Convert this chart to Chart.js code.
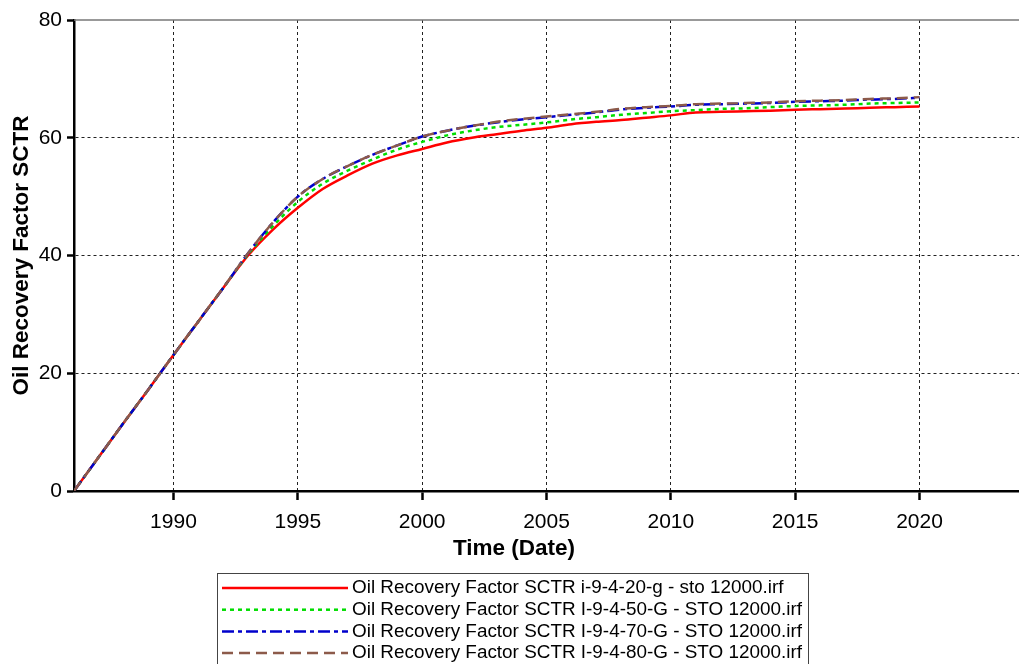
<!DOCTYPE html>
<html>
<head>
<meta charset="utf-8">
<script src="https://cdn.jsdelivr.net/npm/chart.js@4"></script>
<style>
  html, body { margin: 0; padding: 0; background: #fff; }
  canvas { display: block; }
</style>
</head>
<body>
<canvas id="c" width="1019" height="664"></canvas>
<script>
// Simulation time axis (decimal years)
const years = [1986, 1987, 1988, 1989, 1990, 1991, 1992, 1993, 1994, 1995, 1996, 1997,
  1998, 1999, 2000, 2001, 2002, 2003, 2004, 2005, 2006, 2007, 2008, 2009, 2010,
  2011, 2012, 2013, 2014, 2015, 2016, 2017, 2018, 2019, 2020];

// Oil recovery factor (%) per case
const rf20 = [0, 5.8, 11.6, 17.3, 23.1, 28.8, 34.5, 40.0, 44.4, 48.1, 51.3, 53.6,
  55.6, 57.0, 58.1, 59.2, 60.0, 60.6, 61.2, 61.7, 62.3, 62.7, 63.0, 63.4, 63.8,
  64.3, 64.4, 64.5, 64.6, 64.75, 64.85, 64.95, 65.1, 65.2, 65.3];
const rf50 = [0, 5.8, 11.6, 17.3, 23.1, 28.8, 34.5, 40.2, 45.0, 49.1, 52.2, 54.4,
  56.3, 58.0, 59.3, 60.4, 61.2, 61.8, 62.2, 62.6, 63.1, 63.5, 63.9, 64.2, 64.5,
  64.7, 64.9, 65.0, 65.2, 65.4, 65.5, 65.6, 65.8, 65.9, 66.0];
const rf70 = [0, 5.8, 11.6, 17.3, 23.1, 28.8, 34.5, 40.4, 45.6, 50.0, 53.0, 55.2,
  57.1, 58.7, 60.2, 61.2, 62.0, 62.6, 63.1, 63.5, 63.9, 64.3, 64.8, 65.1, 65.3,
  65.6, 65.7, 65.8, 65.9, 66.1, 66.2, 66.3, 66.5, 66.6, 66.8];
const rf80 = [0, 5.8, 11.6, 17.3, 23.1, 28.8, 34.5, 40.4, 45.6, 50.0, 53.0, 55.2,
  57.1, 58.7, 60.2, 61.2, 62.0, 62.7, 63.2, 63.6, 64.0, 64.4, 64.9, 65.2, 65.4,
  65.7, 65.8, 65.9, 66.0, 66.2, 66.3, 66.4, 66.6, 66.7, 66.9];

const seriesLabels = [
  'Oil Recovery Factor SCTR i-9-4-20-g - sto 12000.irf',
  'Oil Recovery Factor SCTR I-9-4-50-G - STO 12000.irf',
  'Oil Recovery Factor SCTR I-9-4-70-G - STO 12000.irf',
  'Oil Recovery Factor SCTR I-9-4-80-G - STO 12000.irf'
];
const xTicks = [1990, 1995, 2000, 2005, 2010, 2015, 2020];
const yTicks = [0, 20, 40, 60, 80];
const xTitle = 'Time (Date)';

const toPoints = vals => vals.map((v, i) => ({ x: years[i], y: v }));
const FONT = '"Liberation Sans", Arial, sans-serif';

// Boxed legend with long line samples, stacked below the plot
const boxedLegend = {
  id: 'boxedLegend',
  afterDraw(chart) {
    const ctx = chart.ctx;
    ctx.save();
    ctx.strokeStyle = '#444';
    ctx.lineWidth = 1;
    ctx.strokeRect(217.5, 573.5, 591, 110);
    chart.data.datasets.forEach((ds, i) => {
      const y = 588 + i * 21.7;
      ctx.setLineDash(ds.borderDash || []);
      ctx.strokeStyle = ds.borderColor;
      ctx.lineWidth = ds.borderWidth;
      ctx.beginPath();
      ctx.moveTo(222, y);
      ctx.lineTo(348, y);
      ctx.stroke();
      ctx.setLineDash([]);
      ctx.fillStyle = '#000';
      ctx.font = '18.9px ' + FONT;
      ctx.textBaseline = 'middle';
      ctx.fillText(ds.label, 352, y);
    });
    // horizontal axis title, centred on the page like the legend
    ctx.font = 'bold 22.5px ' + FONT;
    ctx.textAlign = 'center';
    ctx.textBaseline = 'middle';
    ctx.fillText(xTitle, 514, 549);
    ctx.restore();
  }
};

// Solid grey frame line along the top of the plot area
const topFrame = {
  id: 'topFrame',
  beforeDatasetsDraw(chart) {
    const { ctx, chartArea } = chart;
    ctx.save();
    ctx.strokeStyle = '#777';
    ctx.lineWidth = 1.5;
    ctx.beginPath();
    ctx.moveTo(chartArea.left, chartArea.top);
    ctx.lineTo(chartArea.right + 5, chartArea.top);
    ctx.stroke();
    ctx.restore();
  }
};

const mk = (label, data, color, dash, width, order) => ({
  label, data: toPoints(data), borderColor: color, backgroundColor: color,
  borderDash: dash, borderWidth: width, pointRadius: 0, fill: false,
  cubicInterpolationMode: 'monotone', order
});

new Chart(document.getElementById('c'), {
  type: 'line',
  data: {
    datasets: [
      mk(seriesLabels[0], rf20, '#ff0000', [], 2.5, 3),
      mk(seriesLabels[1], rf50, '#00dd00', [4, 4], 2.5, 2),
      mk(seriesLabels[2], rf70, '#0000cc', [12, 4, 4, 4], 2.5, 1),
      mk(seriesLabels[3], rf80, '#8c5a4a', [11, 6], 2.5, 0)
    ]
  },
  options: {
    responsive: false,
    devicePixelRatio: 1,
    animation: false,
    layout: { padding: { left: 0, top: 20, right: -3, bottom: 102 } },
    plugins: { legend: { display: false }, tooltip: { enabled: false } },
    scales: {
      x: {
        type: 'linear', min: 1986, max: 2024,
        afterBuildTicks: s => { s.ticks = xTicks.map(v => ({ value: v })); },
        afterFit: s => { s.height = 71; },
        ticks: { color: '#000', font: { family: FONT, size: 21 }, padding: 10, maxRotation: 0,
                 callback: v => String(v) },
        grid: { color: '#222', lineWidth: 1, tickLength: 9, tickWidth: 2.5, tickColor: '#000',
                tickBorderDash: [] },
        border: { color: '#000', width: 2.5, dash: [3, 3] },
        title: { display: false }
      },
      y: {
        min: 0, max: 80,
        afterBuildTicks: s => { s.ticks = yTicks.map(v => ({ value: v })); },
        afterFit: s => { s.width = 74; },
        ticks: { color: '#000', font: { family: FONT, size: 21 }, padding: 5 },
        grid: { color: c => (c.tick && c.tick.value === 80 ? 'rgba(0,0,0,0)' : '#222'),
                lineWidth: 1, tickLength: 7, tickWidth: 2.5, tickColor: '#000', tickBorderDash: [] },
        border: { color: '#000', width: 2.5, dash: [3, 3] },
        title: { display: true, text: 'Oil Recovery Factor SCTR', color: '#000',
                 font: { family: FONT, size: 22.5, weight: 'bold' }, padding: { top: 8, bottom: 0 } }
      }
    }
  },
  plugins: [topFrame, boxedLegend]
});
</script>
</body>
</html>
